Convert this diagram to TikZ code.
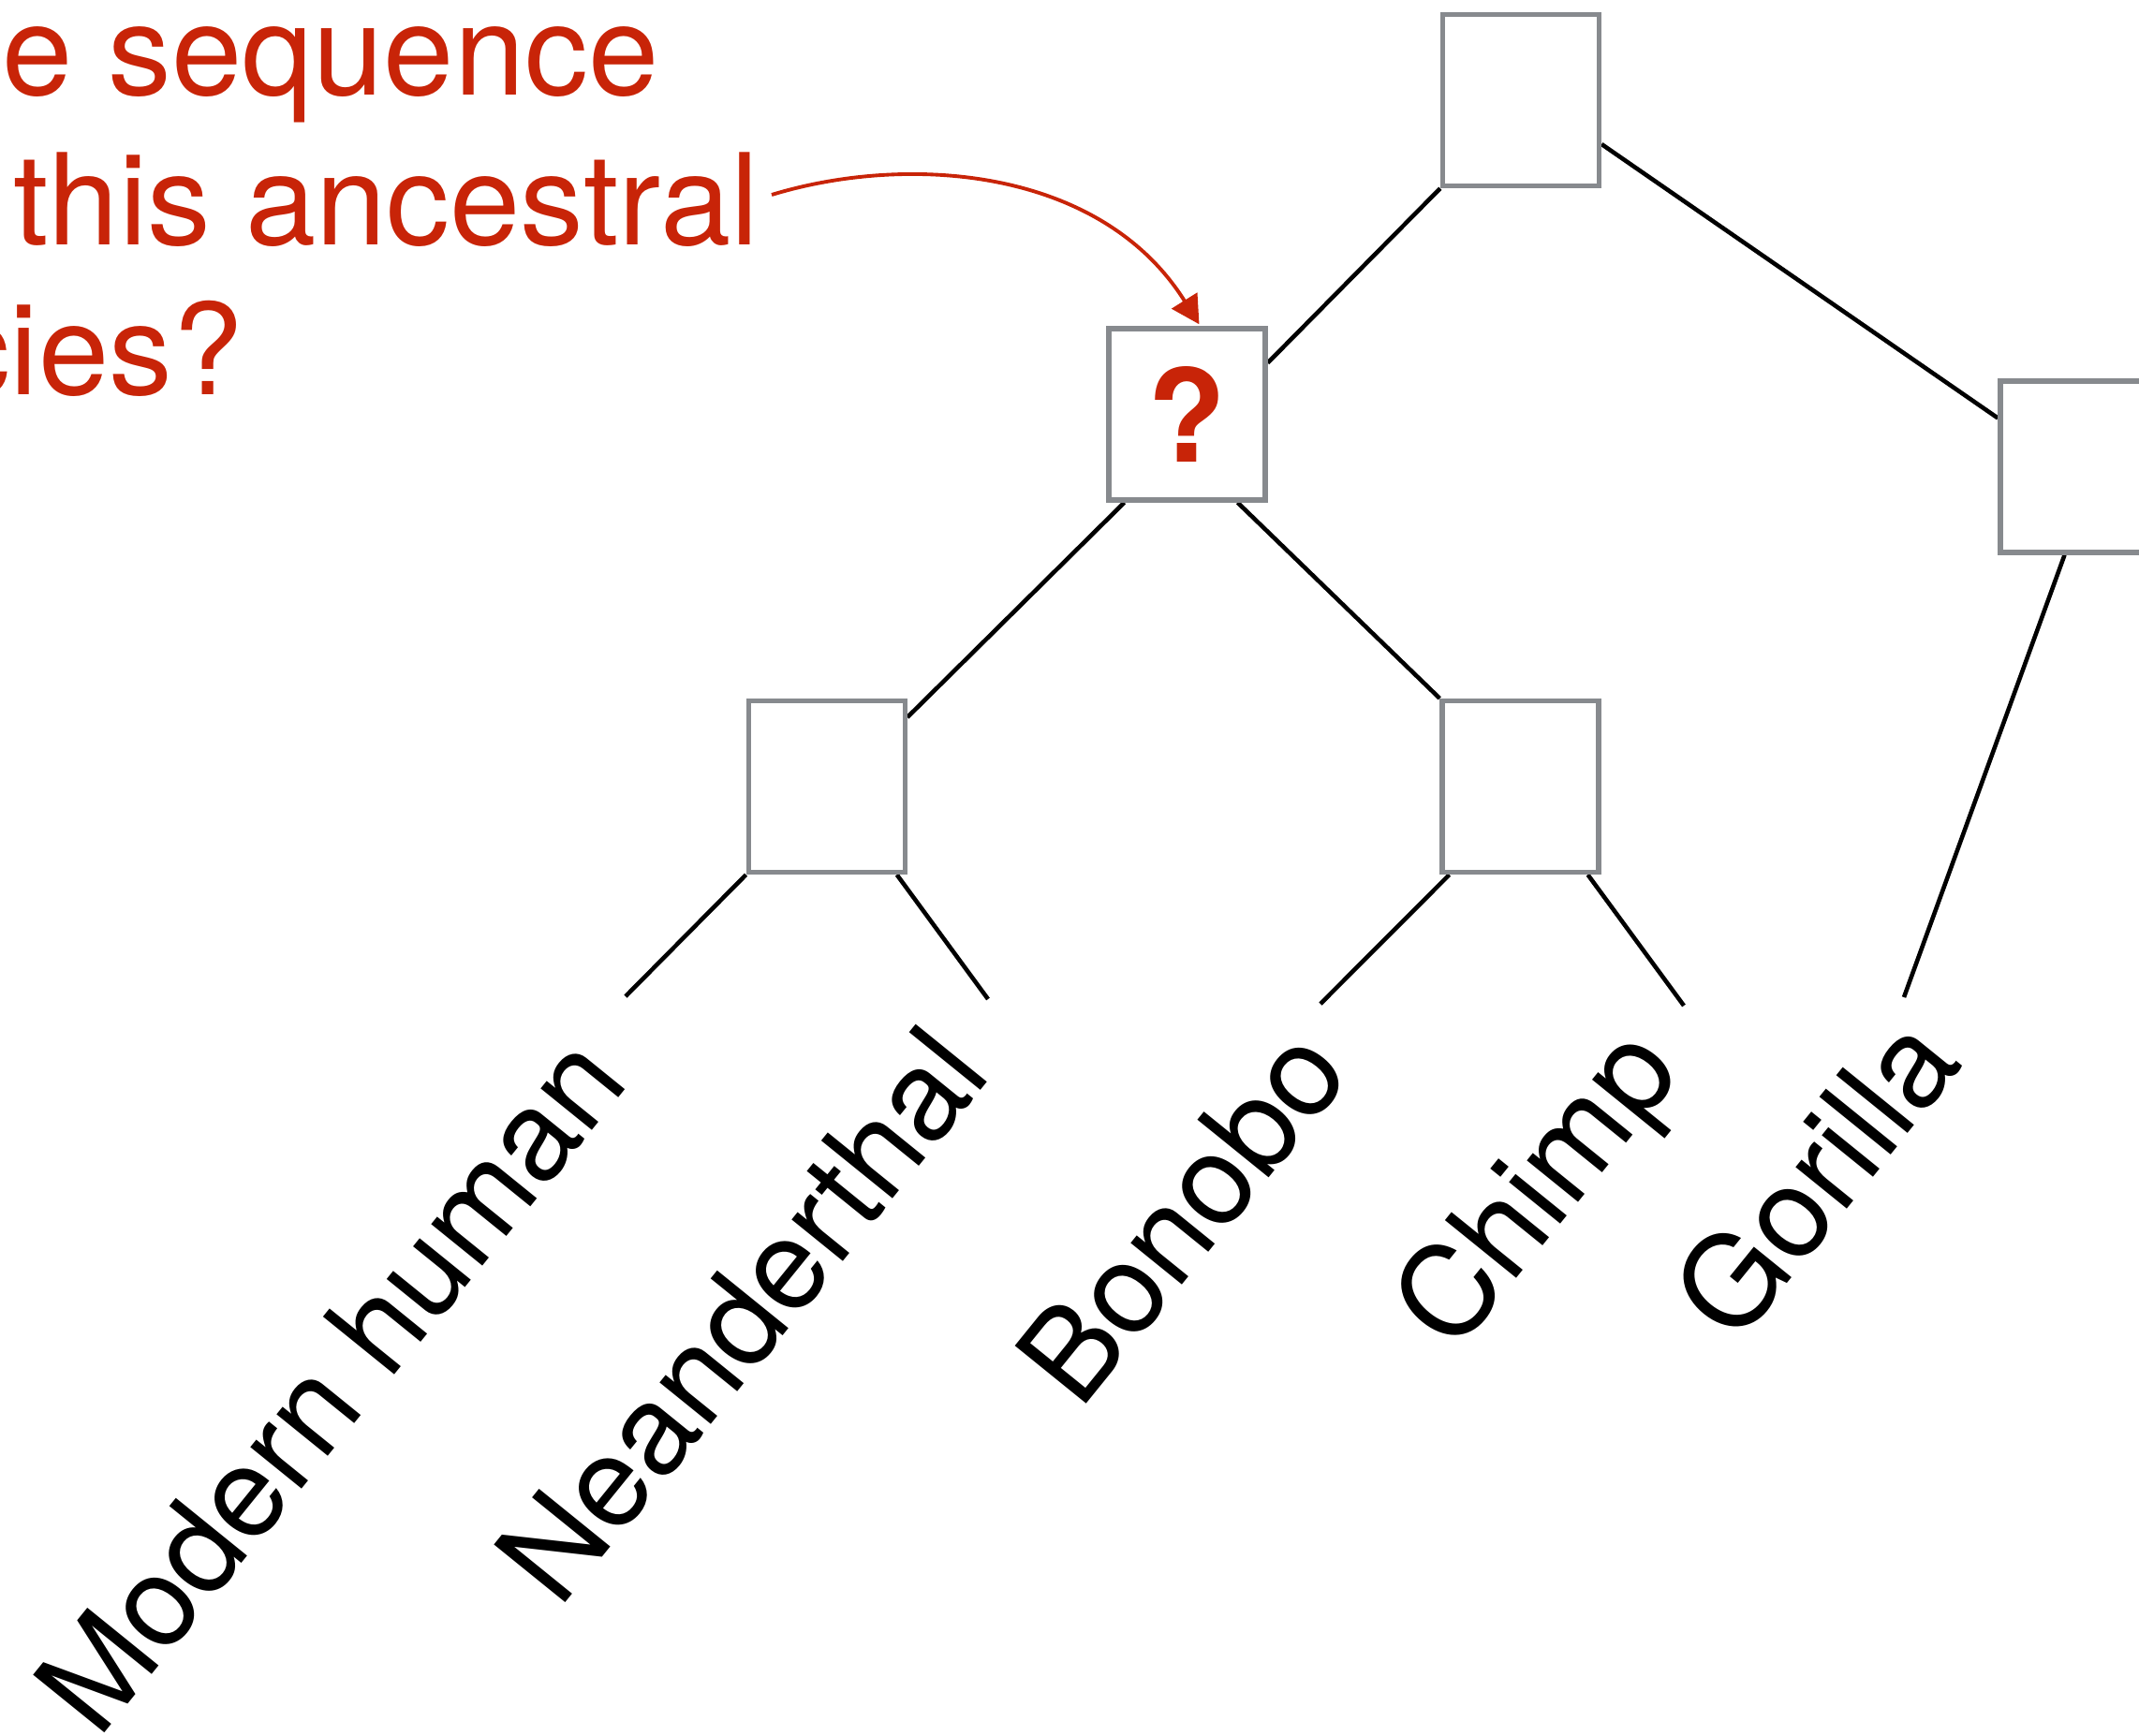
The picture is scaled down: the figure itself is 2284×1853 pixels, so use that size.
\documentclass[tikz,border=0pt]{standalone}
\usepackage{fontspec}
\setmainfont{TeX Gyre Heros}
\usetikzlibrary{calc,arrows.meta,backgrounds}
\definecolor{qred}{RGB}{200,36,8}
\definecolor{boxgray}{RGB}{135,138,142}
\begin{document}
\begin{tikzpicture}[x=0.01cm,y=-0.01cm,
  anc/.style={draw=boxgray, line width=1.5pt, fill=white,
    minimum width=1.67cm, minimum height=1.83cm, inner sep=0pt},
  branch/.style={line width=1.3pt, draw=black},
  taxon/.style={anchor=base east, rotate=51, inner sep=0pt,
    font=\fontsize{38.2}{46}\selectfont},
  note/.style={anchor=base east, inner sep=0pt, text=qred,
    font=\fontsize{38.5}{46}\selectfont},
  pointer/.style={draw=qred, line width=1.1pt,
    -{Triangle[length=8.5pt,width=9pt]}}]
\path[use as bounding box] (0,0) rectangle (2284,1853);
\clip (0,0) rectangle (2284,1853);

% ancestral nodes
\node[anc] (R)  at (1624,107) {};
\node[anc] (Q)  at (1267.5,442.5)
  {\fontsize{39}{46}\selectfont\bfseries\textcolor{qred}{?}};
\node[anc] (G)  at (2219.5,498.5) {};
\node[anc] (HN) at (882.7,840) {};
\node[anc] (BC) at (1623.5,840) {};

% leaf tips
\coordinate (tHuman) at (668,1064);
\coordinate (tNean)  at (1055,1067);
\coordinate (tBono)  at (1410,1072);
\coordinate (tChimp) at (1798,1074);
\coordinate (tGor)   at (2033,1065);

% branches
\begin{pgfonlayer}{background}
  \draw[branch] (R.south west) -- ($(Q.east)+(0,-55)$);
  \draw[branch] ($(R.east)+(0,47)$) -- ($(G.west)+(0,-52)$);
  \draw[branch] ($(Q.south)+(-67,0)$) -- ($(HN.east)+(0,-74)$);
  \draw[branch] ($(Q.south)+(54,0)$) -- (BC.north west);
  \draw[branch] (HN.south west) -- (tHuman);
  \draw[branch] ($(HN.south)+(75,0)$) -- (tNean);
  \draw[branch] ($(BC.south)+(-76,0)$) -- (tBono);
  \draw[branch] ($(BC.south)+(72,0)$) -- (tChimp);
  \draw[branch] ($(G.south)+(-15,0)$) -- (tGor);
\end{pgfonlayer}

% taxon labels
\node[taxon] (nHuman) at (674,1156)  {Modern human};
\node[taxon] (nNean)  at (1061,1148) {Neanderthal};
\node[taxon] (nBono)  at (1445,1147) {Bonobo};
\node[taxon] (nChimp) at (1798,1145) {Chimp};
\node[taxon] (nGor)   at (2098,1136) {Gorilla};

% question text and pointer
\node[note] (q1) at (704,101) {e sequence};
\node[note] (q2) at (811,261) {this ancestral};
\node[note] (q3) at (260,421) {cies?};
\coordinate (aStart) at (824,208);
\draw[pointer] (aStart) .. controls (968,164) and (1175,178) .. ($(Q.north)+(13,-2)$);
\end{tikzpicture}
\end{document}
